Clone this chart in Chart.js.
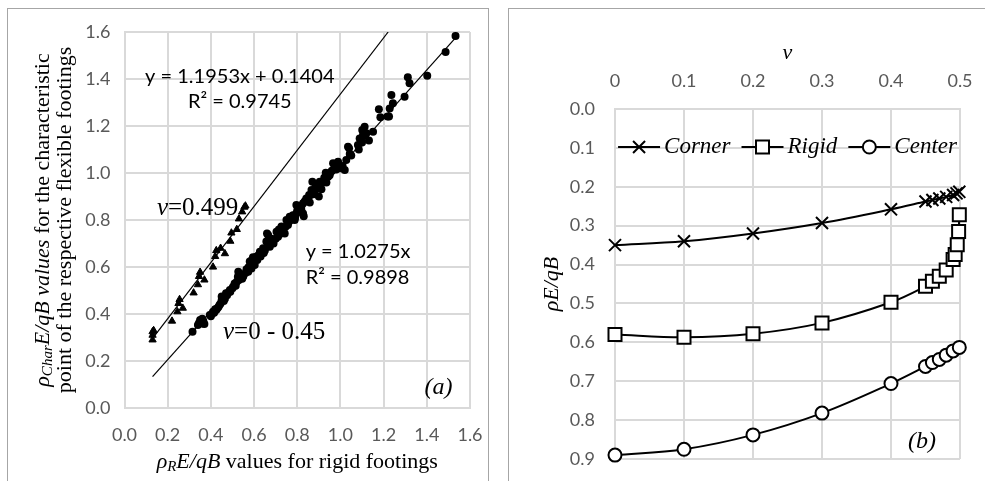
<!DOCTYPE html>
<html><head><meta charset="utf-8">
<script src="https://cdn.jsdelivr.net/npm/chart.js@4/dist/chart.umd.min.js"></script>
<style>
html,body{margin:0;padding:0;background:#fff;width:985px;height:481px;overflow:hidden;}
#ca{position:absolute;left:0;top:0;}
#cb{position:absolute;left:490px;top:0;}
.frame{position:absolute;border:1px solid #a6a6a6;}
</style></head><body>
<div class="frame" style="left:7px;top:8px;width:480px;height:500px;"></div>
<div class="frame" style="left:508px;top:8px;width:500px;height:500px;"></div>
<canvas id="ca" width="490" height="481"></canvas>
<canvas id="cb" width="495" height="481"></canvas>
<script>
// ---------- Panel (a) data ----------
const xTickValsA = [0, 0.2, 0.4, 0.6, 0.8, 1.0, 1.2, 1.4, 1.6];
const xTickLabelsA = ['0.0','0.2','0.4','0.6','0.8','1.0','1.2','1.4','1.6'];
const yTickValsA = [0, 0.2, 0.4, 0.6, 0.8, 1.0, 1.2, 1.4, 1.6];
const yTickLabelsA = ['0.0','0.2','0.4','0.6','0.8','1.0','1.2','1.4','1.6'];

// v = 0.499 (triangles): [rigid, characteristic]
const nu0499Points = [
  [0.13,0.29],[0.13,0.31],[0.13,0.325],[0.135,0.33],
  [0.22,0.37],[0.245,0.41],[0.25,0.445],[0.255,0.462],[0.27,0.425],
  [0.32,0.49],[0.34,0.525],[0.345,0.56],[0.35,0.578],[0.37,0.545],
  [0.41,0.60],[0.42,0.645],[0.425,0.67],[0.445,0.68],[0.465,0.657],
  [0.49,0.71],[0.495,0.745],[0.52,0.76],[0.53,0.805],
  [0.545,0.835],[0.555,0.855],[0.56,0.86]
];
// v = 0 - 0.45 (circles): [rigid, characteristic]
const nu0to045Points = [
  [0.315,0.325],
  [0.34,0.353],[0.345,0.362],[0.35,0.374],[0.355,0.365],[0.36,0.36],[0.36,0.38],[0.365,0.37],[0.37,0.357],
  [0.395,0.396],[0.40,0.39],[0.405,0.40],[0.41,0.41],[0.415,0.405],[0.42,0.42],[0.425,0.417],[0.43,0.425],[0.435,0.43],[0.44,0.438],[0.445,0.445],
  [0.45,0.46],[0.455,0.47],[0.45,0.474],[0.46,0.455],[0.465,0.465],[0.47,0.488],[0.475,0.48],[0.48,0.49],[0.488,0.502],[0.49,0.495],
  [0.50,0.51],[0.503,0.516],[0.51,0.53],[0.515,0.52],[0.52,0.537],[0.525,0.559],[0.527,0.58],[0.53,0.545],[0.535,0.555],[0.54,0.566],[0.545,0.55],[0.55,0.56],
  [0.56,0.575],[0.565,0.59],[0.573,0.58],[0.575,0.6],[0.58,0.623],[0.585,0.61],[0.588,0.594],[0.59,0.63],[0.595,0.641],[0.60,0.62],[0.603,0.609],[0.61,0.644],[0.615,0.63],[0.62,0.65],[0.627,0.665],[0.63,0.645],[0.635,0.655],[0.642,0.68],[0.645,0.66],[0.65,0.67],
  [0.657,0.708],[0.66,0.743],[0.665,0.736],[0.67,0.70],[0.673,0.686],[0.68,0.72],[0.688,0.715],[0.69,0.70],[0.70,0.72],[0.704,0.75],[0.711,0.729],[0.715,0.76],[0.72,0.74],[0.727,0.772],[0.73,0.755],[0.742,0.743],[0.745,0.77],
  [0.75,0.80],[0.757,0.779],[0.76,0.79],[0.765,0.814],[0.77,0.80],[0.773,0.814],[0.78,0.82],[0.788,0.80],[0.79,0.81],[0.796,0.828],[0.796,0.864],[0.80,0.84],[0.804,0.857],[0.81,0.86],[0.819,0.843],[0.819,0.857],[0.827,0.828],[0.827,0.871],[0.83,0.816],
  [0.835,0.88],[0.842,0.892],[0.85,0.892],[0.855,0.906],[0.858,0.874],[0.866,0.928],[0.87,0.963],[0.875,0.91],[0.88,0.915],[0.885,0.95],[0.889,0.942],[0.895,0.935],[0.90,0.90],[0.904,0.963],[0.912,0.931],
  [0.92,0.96],[0.925,0.98],[0.932,1.001],[0.935,0.96],[0.943,0.984],[0.95,0.99],[0.96,1.01],[0.966,1.041],[0.973,1.027],[0.98,1.015],[0.989,1.048],[0.995,1.02],[1.004,1.02],[1.01,1.03],[1.02,1.013],
  [1.027,1.055],[1.035,1.112],[1.04,1.105],[1.043,1.081],[1.05,1.075],[1.081,1.119],[1.085,1.10],[1.089,1.147],[1.095,1.13],[1.10,1.13],[1.101,1.183],[1.105,1.165],[1.112,1.197],[1.115,1.16],[1.12,1.169],[1.132,1.138],[1.151,1.176],
  [1.178,1.271],[1.185,1.237],[1.218,1.24],[1.225,1.24],[1.228,1.275],[1.236,1.332],[1.243,1.297],[1.297,1.325],[1.312,1.407],[1.32,1.382],[1.402,1.414],[1.487,1.515],[1.533,1.583]
];
// trendline end points (y = 1.1953x + 0.1404 and y = 1.0275x)
const trendHighX = [0.13, 1.221];
const trendHighY = [0.2958, 1.6];
const trendLowX = [0.13, 1.54];
const trendLowY = [0.1336, 1.5824];

// ---------- Panel (b) data ----------
const xTickValsB = [0, 0.1, 0.2, 0.3, 0.4, 0.5];
const xTickLabelsB = ['0','0.1','0.2','0.3','0.4','0.5'];
const yTickValsB = [0, 0.1, 0.2, 0.3, 0.4, 0.5, 0.6, 0.7, 0.8, 0.9];
const yTickLabelsB = ['0.0','0.1','0.2','0.3','0.4','0.5','0.6','0.7','0.8','0.9'];
const seriesNames = ['Corner', 'Rigid', 'Center'];
const cornerNu = [0, 0.1, 0.2, 0.3, 0.4, 0.45, 0.46, 0.47, 0.48, 0.49, 0.495, 0.499];
const cornerVal = [0.35, 0.34, 0.32, 0.293, 0.258, 0.238, 0.234, 0.230, 0.226, 0.221, 0.217, 0.213];
const rigidNu = [0, 0.1, 0.2, 0.3, 0.4, 0.45, 0.46, 0.47, 0.48, 0.49, 0.493, 0.496, 0.498, 0.499];
const rigidVal = [0.58, 0.587, 0.578, 0.55, 0.497, 0.456, 0.443, 0.43, 0.414, 0.387, 0.374, 0.349, 0.315, 0.272];
const centerNu = [0, 0.1, 0.2, 0.3, 0.4, 0.45, 0.46, 0.47, 0.48, 0.49, 0.499];
const centerVal = [0.89, 0.875, 0.838, 0.782, 0.706, 0.662, 0.652, 0.644, 0.633, 0.622, 0.613];

// ---------- helpers ----------
const SERIF = '"Liberation Serif","Times New Roman",serif';
const SANS = 'Lato, "Open Sans", sans-serif';
const gridColor = '#d9d9d9';
const tickColor = '#595959';
const tickFont = {family: SANS, size: 18};
const toXY = (xs, ys) => xs.map((x, i) => ({x: x, y: ys[i]}));
const pairsXY = p => p.map(a => ({x: a[0], y: a[1]}));

function drawRich(ctx, segs, x, y, align) {
  let w = 0;
  for (const s of segs) { ctx.font = s.f; w += ctx.measureText(s.t).width; }
  let cx = align === 'center' ? x - w / 2 : (align === 'right' ? x - w : x);
  ctx.textAlign = 'left';
  ctx.textBaseline = 'middle';
  for (const s of segs) {
    ctx.font = s.f;
    ctx.fillText(s.t, cx, y + (s.dy || 0));
    cx += ctx.measureText(s.t).width;
  }
}

function drawMarker(ctx, style, x, y) {
  ctx.save();
  ctx.lineWidth = 2;
  ctx.strokeStyle = '#000';
  ctx.fillStyle = '#fff';
  ctx.beginPath();
  if (style === 'crossRot') {
    const h = 6;
    ctx.moveTo(x - h, y - h); ctx.lineTo(x + h, y + h);
    ctx.moveTo(x + h, y - h); ctx.lineTo(x - h, y + h);
    ctx.stroke();
  } else if (style === 'rect') {
    ctx.rect(x - 6.5, y - 6.5, 13, 13);
    ctx.fill(); ctx.stroke();
  } else {
    ctx.arc(x, y, 6.5, 0, Math.PI * 2);
    ctx.fill(); ctx.stroke();
  }
  ctx.restore();
}

// ---------- Panel (a) ----------
const annotA = {
  id: 'annotA',
  afterDraw(chart) {
    const ctx = chart.ctx, xs = chart.scales.x, ys = chart.scales.y, ca = chart.chartArea;
    ctx.save();
    ctx.fillStyle = '#000';
    const f20 = '20px ' + SANS;
    drawRich(ctx, [{t: 'y = 1.1953x + 0.1404', f: f20}], xs.getPixelForValue(0.534), ys.getPixelForValue(1.409), 'center');
    drawRich(ctx, [{t: 'R² = 0.9745', f: f20}], xs.getPixelForValue(0.534), ys.getPixelForValue(1.302), 'center');
    drawRich(ctx, [{t: 'y = 1.0275x', f: f20}], xs.getPixelForValue(0.839), ys.getPixelForValue(0.664), 'left');
    drawRich(ctx, [{t: 'R² = 0.9898', f: f20}], xs.getPixelForValue(0.839), ys.getPixelForValue(0.553), 'left');
    const it25 = 'italic 25px ' + SERIF, r25 = '25px ' + SERIF;
    drawRich(ctx, [{t: 'v', f: it25}, {t: '=0.499', f: r25}], xs.getPixelForValue(0.15), ys.getPixelForValue(0.851), 'left');
    drawRich(ctx, [{t: 'v', f: it25}, {t: '=0 - 0.45', f: r25}], xs.getPixelForValue(0.456), ys.getPixelForValue(0.323), 'left');
    drawRich(ctx, [{t: '(a)', f: 'italic 24px ' + SERIF}], xs.getPixelForValue(1.519), ys.getPixelForValue(0.085), 'right');
    // axis titles
    const it22 = 'italic 22px ' + SERIF, r22 = '22px ' + SERIF, sub = 'italic 15px ' + SERIF;
    drawRich(ctx, [{t: 'ρ', f: it22}, {t: 'R', f: sub, dy: 5}, {t: 'E/qB', f: it22}, {t: ' values for rigid footings', f: r22}],
      (ca.left + ca.right) / 2, 462, 'center');
    const cy = (ca.top + ca.bottom) / 2;
    ctx.translate(43, cy);
    ctx.rotate(-Math.PI / 2);
    drawRich(ctx, [{t: 'ρ', f: it22}, {t: 'Char', f: sub, dy: 5}, {t: 'E/qB values', f: it22}, {t: ' for the characteristic', f: r22}], 0, 0, 'center');
    drawRich(ctx, [{t: 'point of the respective flexible footings', f: r22}], 0, 22, 'center');
    ctx.restore();
  }
};

function linAxis(vals, labels, offset, extra) {
  return Object.assign({
    type: 'linear',
    min: vals[0], max: vals[vals.length - 1],
    afterBuildTicks: s => { s.ticks = vals.map(v => ({value: v})); },
    ticks: {callback: (v, i) => labels[i], color: tickColor, font: tickFont, padding: 0, maxRotation: 0, autoSkip: false},
    grid: {color: gridColor, lineWidth: 2, drawTicks: true, tickLength: offset, tickColor: 'rgba(0,0,0,0)'},
    border: {color: gridColor, width: 2}
  }, extra);
}

new Chart(document.getElementById('ca'), {
  type: 'scatter',
  data: {
    datasets: [
      {type: 'line', label: 'fit 0.499', data: toXY(trendHighX, trendHighY), borderColor: '#000', borderWidth: 1.2, pointRadius: 0, fill: false},
      {type: 'line', label: 'fit 0-0.45', data: toXY(trendLowX, trendLowY), borderColor: '#000', borderWidth: 1.2, pointRadius: 0, fill: false},
      {label: 'v=0.499', data: pairsXY(nu0499Points), pointStyle: 'triangle', pointRadius: 4.2, backgroundColor: '#000', borderColor: '#000', borderWidth: 1},
      {label: 'v=0 - 0.45', data: pairsXY(nu0to045Points), pointStyle: 'circle', pointRadius: 4, backgroundColor: '#000', borderColor: '#000', borderWidth: 0}
    ]
  },
  options: {
    responsive: false, animation: false, devicePixelRatio: 1,
    layout: {padding: {left: 0, right: 20, top: 32, bottom: 0}},
    plugins: {legend: {display: false}, tooltip: {enabled: false}},
    scales: {
      x: linAxis(xTickValsA, xTickLabelsA, 16, {afterFit: s => { s.height = 73; }}),
      y: linAxis(yTickValsA, yTickLabelsA, 14, {afterFit: s => { s.width = 124.5; }})
    }
  },
  plugins: [annotA]
});

// ---------- Panel (b) ----------
const markerStyles = ['crossRot', 'rect', 'circle'];
const annotB = {
  id: 'annotB',
  afterDraw(chart) {
    const ctx = chart.ctx, xs = chart.scales.x, ys = chart.scales.y, ca = chart.chartArea;
    ctx.save();
    ctx.fillStyle = '#000';
    const it22 = 'italic 22px ' + SERIF;
    drawRich(ctx, [{t: 'v', f: it22}], (ca.left + ca.right) / 2, 53, 'center');
    drawRich(ctx, [{t: '(b)', f: 'italic 24px ' + SERIF}], xs.getPixelForValue(0.445), ys.getPixelForValue(0.856), 'center');
    // legend
    const lf = 'italic 23px ' + SERIF;
    ctx.font = lf;
    const symW = 42, gapT = 4, gapI = 11;
    let total = 0;
    seriesNames.forEach((n, i) => { total += symW + gapT + ctx.measureText(n).width + (i < seriesNames.length - 1 ? gapI : 0); });
    let x = (ca.left + ca.right) / 2 - total / 2;
    const ly = ca.top + 38;
    seriesNames.forEach((n, i) => {
      ctx.save();
      ctx.strokeStyle = '#000'; ctx.lineWidth = 2;
      ctx.beginPath(); ctx.moveTo(x, ly); ctx.lineTo(x + symW, ly); ctx.stroke();
      ctx.restore();
      drawMarker(ctx, markerStyles[i], x + symW / 2, ly);
      ctx.fillStyle = '#000';
      drawRich(ctx, [{t: n, f: lf}], x + symW + gapT, ly, 'left');
      ctx.font = lf;
      x += symW + gapT + ctx.measureText(n).width + gapI;
    });
    // y title
    ctx.translate(62, (ca.top + ca.bottom) / 2);
    ctx.rotate(-Math.PI / 2);
    drawRich(ctx, [{t: 'ρE/qB', f: it22}], 0, 0, 'center');
    ctx.restore();
  }
};

const lineSeries = (name, xs, ys, style, r) => ({
  label: name, data: toXY(xs, ys), showLine: true, borderColor: '#000', borderWidth: 2, tension: 0.35,
  pointStyle: style, pointRadius: r, pointBorderWidth: 2, pointBackgroundColor: '#fff', pointBorderColor: '#000', clip: false
});

new Chart(document.getElementById('cb'), {
  type: 'scatter',
  data: {
    datasets: [
      lineSeries(seriesNames[0], cornerNu, cornerVal, 'crossRot', 8.5),
      lineSeries(seriesNames[1], rigidNu, rigidVal, 'rect', 9.2),
      lineSeries(seriesNames[2], centerNu, centerVal, 'circle', 6.5)
    ]
  },
  options: {
    responsive: false, animation: false, devicePixelRatio: 1,
    layout: {padding: {left: 0, right: 25, top: 0, bottom: 22}},
    plugins: {legend: {display: false}, tooltip: {enabled: false}},
    scales: {
      x: linAxis(xTickValsB, xTickLabelsB, 17, {position: 'top', afterFit: s => { s.height = 109; }}),
      y: linAxis(yTickValsB, yTickLabelsB, 20, {reverse: true, afterFit: s => { s.width = 125; }})
    }
  },
  plugins: [annotB]
});
</script>
</body></html>
